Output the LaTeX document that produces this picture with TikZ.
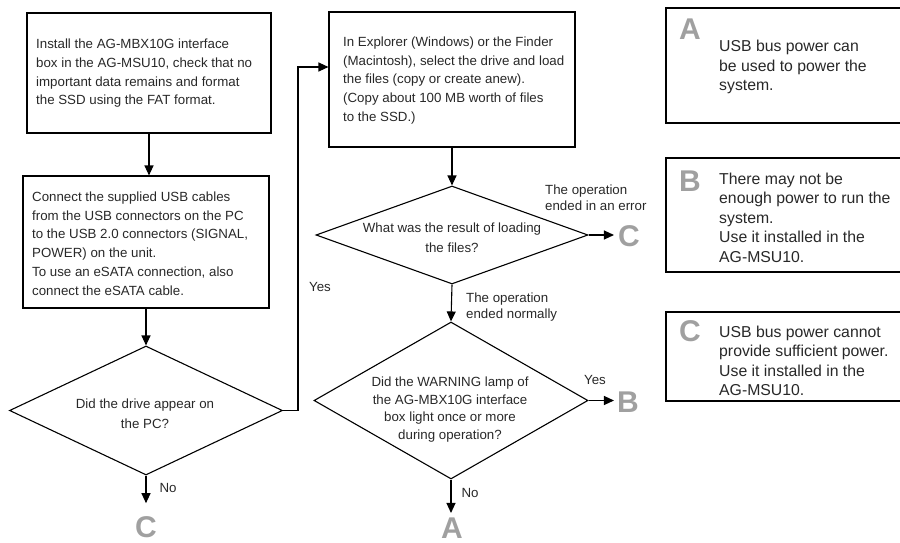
\documentclass[tikz,border=0pt]{standalone}
\usepackage{fontspec}
\setmainfont{Liberation Sans}
\usetikzlibrary{shapes.geometric,arrows.meta}
\definecolor{lettergray}{RGB}{160,160,160}
\definecolor{txtc}{RGB}{40,40,40}
\begin{document}
\begin{tikzpicture}[x=1pt,y=-1pt]
\tikzset{
 flowbox/.style={draw, line width=1.1pt, inner sep=0pt},
 sidebox/.style={draw, line width=2.2pt, inner sep=0pt},
 dia/.style={diamond, draw, line width=1.1pt, inner sep=0pt},
 boxtxt/.style={align=left, inner sep=0pt, text=txtc, font=\fontsize{13.3}{18.7}\selectfont},
 diatxt/.style={align=center, inner sep=0pt, text=txtc, font=\fontsize{13.3}{20}\selectfont},
 lbl/.style={align=left, inner sep=0pt, text=txtc, font=\fontsize{13.3}{16}\selectfont},
 sidetxt/.style={align=left, inner sep=0pt, text=txtc, font=\fontsize{15.8}{19.5}\selectfont},
 letter/.style={inner sep=0pt, text=lettergray, font=\fontsize{30}{30}\selectfont\bfseries},
 conn/.style={line width=1.1pt, -{Triangle[length=10pt,width=9pt]}},
}
\useasboundingbox (0,0) rectangle (900,543);
\clip (0,0) rectangle (900,543);

% flowchart boxes
\node[flowbox, minimum width=244pt, minimum height=120pt] (b1) at (149,73) {};
\node[boxtxt, anchor=west] (t1) at (36,73.5) {Install the AG-MBX10G interface\\box in the AG-MSU10, check that no\\important data remains and format\\the SSD using the FAT format.};

\node[flowbox, minimum width=246pt, minimum height=132pt] (b2) at (146,242) {};
\node[boxtxt, anchor=west] (t2) at (32,243.5) {Connect the supplied USB cables\\from the USB connectors on the PC\\to the USB 2.0 connectors (SIGNAL,\\POWER) on the unit.\\To use an eSATA connection, also\\connect the eSATA cable.};

\node[flowbox, minimum width=246pt, minimum height=135pt] (b3) at (452,79.5) {};
\node[boxtxt, anchor=west] (t3) at (343,80.5) {In Explorer (Windows) or the Finder\\(Macintosh), select the drive and load\\the files (copy or create anew).\\(Copy about 100 MB worth of files\\to the SSD.)};

% diamonds
\node[dia, minimum width=273pt, minimum height=129pt] (d1) at (146,410.5) {};
\node[diatxt] (d1t) at (145,414) {Did the drive appear on\\the PC?};

\node[dia, minimum width=272pt, minimum height=98pt] (d2) at (452,235) {};
\node[diatxt] (d2t) at (452,238) {What was the result of loading\\the files?};

\node[dia, minimum width=274pt, minimum height=157pt] (d3) at (451,400.5) {};
\node[diatxt, font=\fontsize{13.3}{17.7}\selectfont] (d3t) at (450,409.5) {Did the WARNING lamp of\\the AG-MBX10G interface\\box light once or more\\during operation?};

% letters in flowchart
\node[letter] (lC1) at (146,527) {C};
\node[letter] (lC2) at (629,236) {C};
\node[letter] (lB) at (628,402) {B};
\node[letter] (lA) at (452,528.5) {A};

% connectors
\draw[conn] (b1.south) -- (b1.south |- b2.north);
\draw[conn] (b2.south) -- (b2.south |- d1.north);
\coordinate (c1) at (298,67);
\draw[conn] (d1.east) -- (d1.east -| c1) -- (c1) -- (c1 -| b3.west);
\draw[conn] (b3.south) -- (d2.north);
\draw[conn] (d2.south) -- (d3.north);
\draw[conn, shorten >=13pt] (d1.south) -- (d1.south |- lC1.north);
\draw[conn, shorten >=4pt] (d2.east) -- (d2.east -| lC2.west);
\draw[conn, shorten >=3pt] (d3.east) -- (d3.east -| lB.west);
\draw[conn, shorten >=5pt] (d3.south) -- (d3.south |- lA.north);

% labels
\node[lbl] (yes1) at (320,287) {Yes};
\node[lbl] (no1) at (168,488) {No};
\node[lbl, anchor=west] (err) at (545,198) {The operation\\ended in an error};
\node[lbl, anchor=west] (norm) at (466,307) {The operation\\ended normally};
\node[lbl] (yes2) at (595,380) {Yes};
\node[lbl] (no2) at (470,493) {No};

% side boxes
\node[sidebox, minimum width=244pt, minimum height=115pt] (sA) at (788,65.5) {};
\node[letter] (sAl) at (690,29) {A};
\node[sidetxt, anchor=west] (sAt) at (719,67) {USB bus power can\\be used to power the\\system.};

\node[sidebox, minimum width=244pt, minimum height=114pt] (sB) at (788,215) {};
\node[letter] (sBl) at (690,181) {B};
\node[sidetxt, anchor=west] (sBt) at (719,217.5) {There may not be\\enough power to run the\\system.\\Use it installed in the\\AG-MSU10.};

\node[sidebox, minimum width=244pt, minimum height=89pt] (sC) at (788,356.5) {};
\node[letter] (sCl) at (690,331) {C};
\node[sidetxt, anchor=west] (sCt) at (719,361) {USB bus power cannot\\provide sufficient power.\\Use it installed in the\\AG-MSU10.};
\end{tikzpicture}
\end{document}
